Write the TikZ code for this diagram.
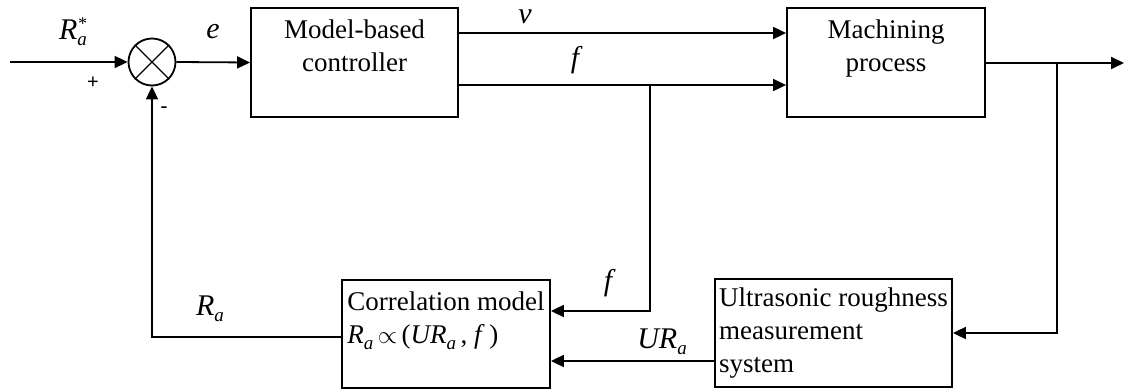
\documentclass[tikz,border=0pt]{standalone}
\usepackage{fontspec}
\setmainfont{Liberation Serif}
\newfontfamily\signfont{Liberation Sans}
\usetikzlibrary{arrows.meta}
\newcommand{\lowsub}[1]{\raisebox{-6pt}{\fontsize{19}{19}\selectfont\itshape #1}}
\newcommand{\highsup}[1]{\rlap{\raisebox{10pt}{\fontsize{18}{18}\selectfont #1}}}
\tikzset{
  block/.style={draw, line width=1.8pt, inner sep=4pt},
  signal/.style={line width=1.8pt},
  symlabel/.style={font=\fontsize{30}{33}\selectfont\itshape, inner sep=1pt},
  every node/.style={font=\fontsize{27}{33}\selectfont}
}
\begin{document}
\begin{tikzpicture}[x=1pt, y=-1pt, >={Triangle[length=13pt, width=12pt]}]
  \useasboundingbox (0,0) rectangle (1124,390);

  \node[circle, draw, line width=1.8pt, minimum size=47pt, inner sep=0pt] (sum) at (152,62) {};
  \draw[line width=1.4pt] (sum.north west) -- (sum.south east);
  \draw[line width=1.4pt] (sum.north east) -- (sum.south west);

  \node[block, minimum width=207pt, minimum height=109pt, align=center] (ctrl) at (354.5,62.5) {Model-based\\controller\\ \mbox{}};
  \node[block, minimum width=198pt, minimum height=109pt, align=center] (mach) at (886,62.5) {Machining\\process\\ \mbox{}};
  \node[block, minimum width=208pt, minimum height=108pt, align=left] (corr) at (446,334) {Correlation model\\ \textit{R}\lowsub{a}\,$\propto$\,(\textit{UR}\lowsub{a}\,, \textit{f}\,)\\ \mbox{}};
  \node[block, minimum width=237pt, minimum height=108pt, align=left] (urms) at (833.5,333) {Ultrasonic roughness\\measurement\\system};

  \coordinate (in) at (10,62);
  \coordinate (out) at (1124,63);
  \coordinate (fsplit) at (650,85);
  \coordinate (osplit) at (1057,63);

  \draw[signal, ->] (in) -- (sum.west);
  \draw[signal, ->] (sum.east) -- (ctrl.west);
  \draw[signal, ->] (ctrl.east |- 0,33) -- (mach.west |- 0,33);
  \draw[signal, ->] (ctrl.east |- 0,85) -- (mach.west |- 0,85);
  \draw[signal, ->] (fsplit) |- (corr.east |- 0,311);
  \draw[signal, ->] (mach.east |- out) -- (out);
  \draw[signal, ->] (osplit) |- (urms.east);
  \draw[signal, ->] (urms.west |- 0,361) -- (corr.east |- 0,361);
  \draw[signal, ->] (corr.west |- 0,337) -| (sum.south);

  \node[symlabel] (lref) at (73,32) {R\highsup{*}\lowsub{a}};
  \node (lplus) at (93,83) {\signfont\fontsize{20}{20}\selectfont +};
  \node (lminus) at (164,110) {\signfont\fontsize{22}{22}\selectfont -};
  \node[symlabel] (lerr) at (213,32) {e};
  \node[symlabel] (lspeed) at (525,17) {v};
  \node[symlabel] (lfeed) at (575,60) {f};
  \node[symlabel] (lfeedb) at (608,283) {f};
  \node[symlabel] (lur) at (662,342) {UR\lowsub{a}};
  \node[symlabel] (lra) at (210,309) {R\lowsub{a}};
\end{tikzpicture}
\end{document}
